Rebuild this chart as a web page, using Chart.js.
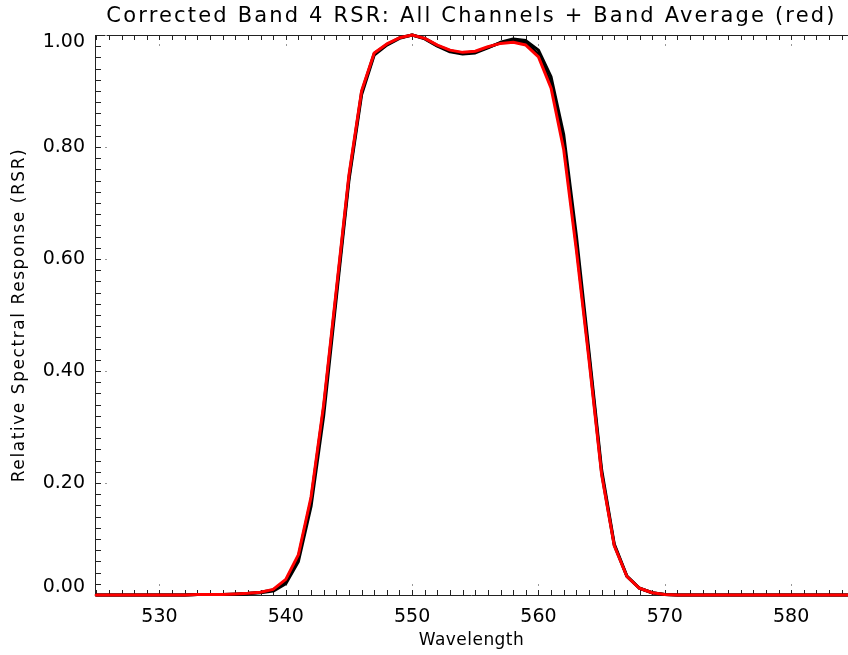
<!DOCTYPE html>
<html>
<head>
<meta charset="utf-8">
<title>Band 4 RSR</title>
<script src="https://cdn.jsdelivr.net/npm/chart.js@4.4.1/dist/chart.umd.min.js"></script>
<style>
  html, body { margin: 0; padding: 0; background: #fff; }
  #wrap { width: 848px; height: 655px; }
</style>
</head>
<body>
<div id="wrap"><canvas id="rsr"></canvas></div>
<script>
// wavelength grid (nm)
const wavelengths = [
  525, 526, 527, 528, 529, 530, 531, 532, 533, 534,
  535, 536, 537, 538, 539, 540, 541, 542, 543, 544,
  545, 546, 547, 548, 549, 550, 551, 552, 553, 554,
  555, 556, 557, 558, 559, 560, 561, 562, 563, 564,
  565, 566, 567, 568, 569, 570, 571, 572, 573, 574,
  575, 576, 577, 578, 579, 580, 581, 582, 583, 584, 585
];

// individual channels (black)
const channelA = [
  0, 0, 0, 0, 0, 0, 0, 0, 0.001, 0.001,
  0.001, 0.001, 0.002, 0.004, 0.007, 0.020, 0.060, 0.158, 0.320, 0.530,
  0.740, 0.893, 0.964, 0.982, 0.994, 1.000, 0.993, 0.980, 0.970, 0.966,
  0.968, 0.977, 0.987, 0.993, 0.990, 0.973, 0.925, 0.822, 0.642, 0.435,
  0.224, 0.091, 0.034, 0.012, 0.004, 0.001, 0, 0, 0, 0,
  0, 0, 0, 0, 0, 0, 0, 0, 0, 0, 0
];
const channelB = [
  0, 0, 0, 0, 0, 0, 0, 0, 0.001, 0.001,
  0.001, 0.002, 0.003, 0.005, 0.009, 0.025, 0.068, 0.170, 0.335, 0.540,
  0.746, 0.898, 0.967, 0.983, 0.995, 1.000, 0.994, 0.981, 0.972, 0.968,
  0.970, 0.978, 0.986, 0.990, 0.986, 0.966, 0.913, 0.806, 0.625, 0.426,
  0.218, 0.089, 0.033, 0.012, 0.004, 0.001, 0, 0, 0, 0,
  0, 0, 0, 0, 0, 0, 0, 0, 0, 0, 0
];

// band average (red)
const bandAverage = [
  0, 0, 0, 0, 0, 0, 0, 0, 0.001, 0.001,
  0.001, 0.002, 0.003, 0.005, 0.010, 0.028, 0.072, 0.175, 0.340, 0.545,
  0.750, 0.900, 0.968, 0.984, 0.995, 1.000, 0.994, 0.982, 0.973, 0.969,
  0.971, 0.979, 0.985, 0.987, 0.982, 0.961, 0.905, 0.795, 0.616, 0.420,
  0.215, 0.088, 0.033, 0.012, 0.004, 0.001, 0, 0, 0, 0,
  0, 0, 0, 0, 0, 0, 0, 0, 0, 0, 0
];

const xTickLabels = [530, 540, 550, 560, 570, 580];
const yTickLabels = ["0.00", "0.20", "0.40", "0.60", "0.80", "1.00"];

const titleText = "Corrected Band 4 RSR: All Channels + Band Average (red)";
const xTitle = "Wavelength";
const yTitle = "Relative Spectral Response (RSR)";
const fontFamily = "'DejaVu Sans', 'Liberation Sans', sans-serif";

function toPoints(vals) {
  return wavelengths.map((w, i) => ({ x: w, y: vals[i] }));
}

// the IDL vector font is wide; spread letters to the wanted width
function wideText(ctx, text, x, y, size, width) {
  ctx.font = size + "px " + fontFamily;
  ctx.letterSpacing = "0px";
  const w = ctx.measureText(text).width;
  if (width && text.length > 1) {
    ctx.letterSpacing = ((width - w) / (text.length - 1)).toFixed(2) + "px";
  }
  ctx.fillText(text, x, y);
  ctx.letterSpacing = "0px";
}

// IDL-style frame: inward ticks, top axis, labels, title
const idlFrame = {
  id: "idlFrame",
  beforeDatasetsDraw(chart) {
    const { ctx, chartArea: a, scales } = chart;
    const xs = scales.x, ys = scales.y;
    ctx.save();
    ctx.strokeStyle = "#222";
    ctx.lineWidth = 1;
    ctx.beginPath();
    ctx.moveTo(a.left + 0.5, a.bottom + 0.5);
    ctx.lineTo(a.left + 0.5, a.top + 0.5);
    ctx.lineTo(a.right, a.top + 0.5);
    ctx.moveTo(a.left, a.bottom + 0.5);
    ctx.lineTo(a.right, a.bottom + 0.5);
    ctx.stroke();

    // x minor ticks every 1 nm
    ctx.beginPath();
    for (let v = Math.ceil(xs.min); v <= xs.max; v++) {
      const px = Math.round(xs.getPixelForValue(v)) + 0.5;
      ctx.moveTo(px, a.bottom);
      ctx.lineTo(px, a.bottom - 5);
      ctx.moveTo(px, a.top);
      ctx.lineTo(px, a.top + 5);
    }
    // y minor ticks every 0.02
    for (let i = 0; i <= 50; i++) {
      const py = Math.round(ys.getPixelForValue(i * 0.02)) + 0.5;
      ctx.moveTo(a.left, py);
      ctx.lineTo(a.left + 6, py);
    }
    ctx.stroke();

    // faint dots at major tick positions
    ctx.fillStyle = "#999";
    xTickLabels.forEach(v => {
      const px = Math.round(xs.getPixelForValue(v));
      ctx.fillRect(px, a.bottom - 11, 1, 2);
      ctx.fillRect(px, a.top + 9, 1, 2);
    });
    yTickLabels.forEach(t => {
      const py = Math.round(ys.getPixelForValue(parseFloat(t)));
      ctx.fillRect(a.left + 10, py, 2, 1);
    });

    // tick labels
    ctx.fillStyle = "#000";
    ctx.textBaseline = "middle";
    ctx.textAlign = "center";
    xTickLabels.forEach(v => {
      wideText(ctx, String(v), xs.getPixelForValue(v), a.bottom + 22, 19);
    });
    ctx.textAlign = "right";
    yTickLabels.forEach((t, i) => {
      let py = ys.getPixelForValue(parseFloat(t));
      // IDL keeps the end labels inside the axis range
      if (i === 0) py -= 8;
      if (i === yTickLabels.length - 1) py += 7;
      wideText(ctx, t, a.left - 10, py, 19);
    });

    // axis titles
    ctx.textAlign = "center";
    wideText(ctx, xTitle, (a.left + a.right) / 2, 641, 17, 105);
    ctx.save();
    ctx.translate(20, (a.top + a.bottom) / 2);
    ctx.rotate(-Math.PI / 2);
    wideText(ctx, yTitle, 0, 0, 17, 333);
    ctx.restore();

    // main title over the plot area
    wideText(ctx, titleText, (a.left + a.right) / 2, 17, 21, 728);
    ctx.restore();
  }
};

new Chart(document.getElementById("rsr"), {
  type: "line",
  plugins: [idlFrame],
  data: {
    datasets: [
      { label: "Band Average", data: toPoints(bandAverage), borderColor: "#ff0000", borderWidth: 3 },
      { label: "Channel B", data: toPoints(channelB), borderColor: "#000", borderWidth: 3 },
      { label: "Channel A", data: toPoints(channelA), borderColor: "#000", borderWidth: 3 }
    ]
  },
  options: {
    responsive: true,
    maintainAspectRatio: false,
    animation: false,
    layout: { padding: { top: 35, right: 0, bottom: 0, left: 0 } },
    elements: {
      point: { radius: 0 },
      line: { tension: 0, borderCapStyle: "round", borderJoinStyle: "round" }
    },
    datasets: { line: { clip: false } },
    plugins: {
      legend: { display: false },
      tooltip: { enabled: false },
      title: { display: false }
    },
    scales: {
      x: {
        type: "linear",
        min: 524.9,
        max: 584.5,
        grid: { display: false },
        border: { display: false },
        ticks: { display: false, stepSize: 10, includeBounds: false },
        afterFit: s => { s.height = 60; }
      },
      y: {
        type: "linear",
        min: 0,
        max: 1,
        grid: { display: false },
        border: { display: false },
        ticks: { display: false, stepSize: 0.2 },
        afterFit: s => { s.width = 95; }
      }
    }
  }
});
</script>
</body>
</html>
